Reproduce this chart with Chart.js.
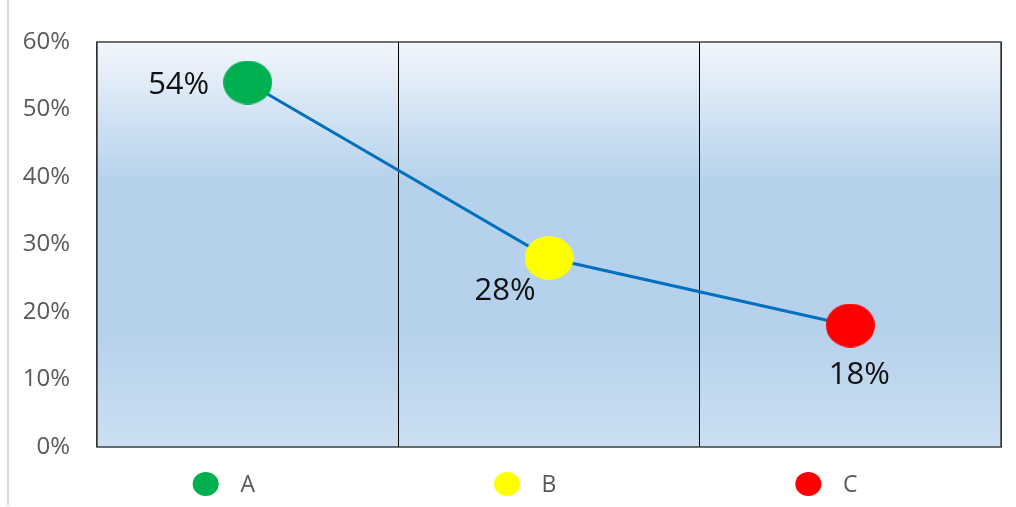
<!DOCTYPE html>
<html>
<head>
<meta charset="utf-8">
<script src="https://cdn.jsdelivr.net/npm/chart.js@4/dist/chart.umd.min.js"></script>
<style>
  html, body { margin: 0; padding: 0; background: #fff; }
  #wrap { position: relative; width: 1016px; height: 507px; }
  #edge { position: absolute; left: 7px; top: 0; width: 2px; height: 505px; background: #d9d9d9; }
</style>
</head>
<body>
<div id="wrap">
  <div id="edge"></div>
  <canvas id="js-chart-line" width="1016" height="507"></canvas>
</div>
<script>
// Chart data
const categories = ['A', 'B', 'C'];
const shares = [54, 28, 18];
const pointColors = ['#00B050', '#FFFF00', '#FF0000'];
const yTicks = [0, 10, 20, 30, 40, 50, 60];

// Ellipse markers (Chart.js only has circles)
function ellipse(color, w, h) {
  let c = document.createElement('canvas');
  c.width = w; c.height = h;
  let ctx = c.getContext('2d');
  ctx.fillStyle = color;
  ctx.beginPath();
  ctx.ellipse(w / 2, h / 2, w / 2, h / 2, 0, 0, Math.PI * 2);
  ctx.fill();
  return c;
}
let markers = pointColors.map(c => ellipse(c, 49, 44));

// gradient behind the plot area
const plotBackground = {
  id: 'plotBackground',
  beforeDraw(chart) {
    let {ctx, chartArea: a} = chart;
    let g = ctx.createLinearGradient(0, a.top, 0, a.bottom);
    g.addColorStop(0, '#f1f6fc');
    g.addColorStop(0.35, '#b5d1eb');
    g.addColorStop(0.7, '#b5d1eb');
    g.addColorStop(1, '#cbdff1');
    ctx.save();
    ctx.fillStyle = g;
    ctx.fillRect(a.left, a.top, a.right - a.left, a.bottom - a.top);
    ctx.restore();
  }
};

// plot border, value labels and the coloured dots beside the category names
const extras = {
  id: 'extras',
  afterDatasetsDraw(chart) {
    let {ctx} = chart;
    let meta = chart.getDatasetMeta(0);
    let offsets = [[-69, 3], [-44, 33], [9, 50]];
    ctx.save();
    ctx.font = '31px "Open Sans"';
    ctx.fillStyle = '#111';
    ctx.textAlign = 'center';
    ctx.textBaseline = 'middle';
    meta.data.forEach((p, i) => {
      ctx.fillText(shares[i] + '%', p.x + offsets[i][0], p.y + offsets[i][1]);
    });
    ctx.restore();
  },
  afterDraw(chart) {
    let {ctx, chartArea: a} = chart;
    let x = chart.scales.x;
    ctx.save();
    ctx.strokeStyle = '#404040';
    ctx.lineWidth = 1.5;
    ctx.strokeRect(a.left, a.top, a.right - a.left, a.bottom - a.top);
    categories.forEach((c, i) => {
      let cx = x.getPixelForValue(i) - 42;
      ctx.fillStyle = pointColors[i];
      ctx.beginPath();
      ctx.ellipse(cx, 484, 13, 12, 0, 0, Math.PI * 2);
      ctx.fill();
    });
    ctx.restore();
  }
};

let chartLineCon = document.getElementById('js-chart-line');

let chartLineData = {
  labels: categories,
  datasets: [
    {
      label: 'Share',
      data: shares,
      borderColor: '#0070C0',
      borderWidth: 3,
      tension: 0,
      fill: false,
      pointStyle: markers,
      pointRadius: 24,
      pointHoverRadius: 24
    }
  ]
};

let chartLineOptions = {
  responsive: false,
  animation: false,
  layout: {
    autoPadding: false,
    padding: {top: 42, right: 15, left: 0, bottom: 0}
  },
  scales: {
    x: {
      offset: true,
      grid: {
        offset: true,
        color: '#000',
        lineWidth: 1,
        drawTicks: false
      },
      border: {display: false},
      ticks: {
        color: '#595959',
        font: {family: 'Open Sans', size: 23},
        padding: 25
      },
      afterFit(scale) {
        scale.height = 60;
        scale.paddingLeft = 0;
        scale.paddingRight = 0;
      }
    },
    y: {
      min: 0,
      max: 60,
      afterBuildTicks(scale) { scale.ticks = yTicks.map(v => ({value: v})); },
      grid: {display: false, drawTicks: false},
      border: {display: false},
      ticks: {
        color: '#595959',
        font: {family: 'Open Sans', size: 24},
        padding: 27,
        callback: v => v + '%'
      },
      afterFit(scale) { scale.width = 97; }
    }
  },
  plugins: {
    legend: {display: false},
    tooltip: {enabled: false}
  }
};

new Chart(chartLineCon, {
  type: 'line',
  data: chartLineData,
  options: chartLineOptions,
  plugins: [plotBackground, extras]
});
</script>
</body>
</html>
